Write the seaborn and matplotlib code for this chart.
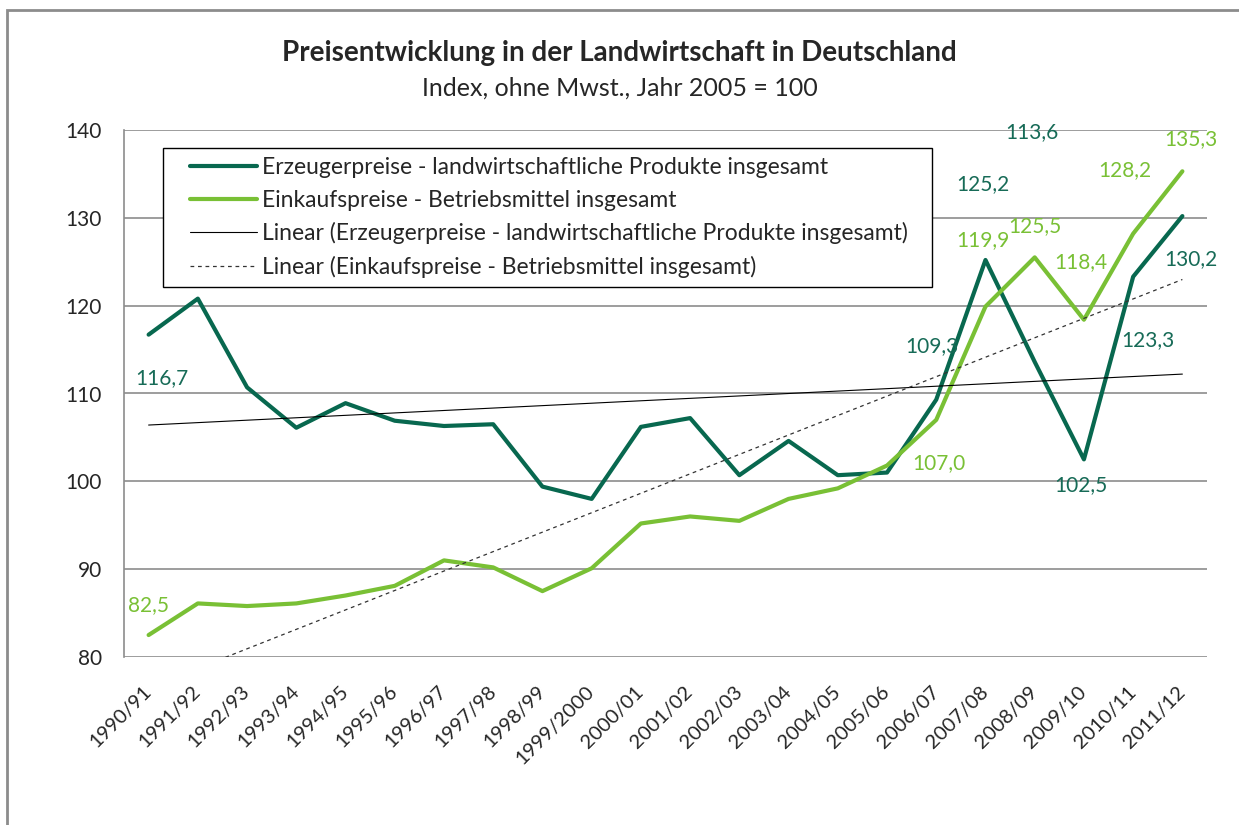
import numpy as np
import pandas as pd
import matplotlib
matplotlib.use("Agg")
import matplotlib.pyplot as plt
from matplotlib.patches import Rectangle
import seaborn as sns

# Daten (Index, Jahr 2005 = 100)
jahre = ["1990/91", "1991/92", "1992/93", "1993/94", "1994/95", "1995/96",
         "1996/97", "1997/98", "1998/99", "1999/2000", "2000/01", "2001/02",
         "2002/03", "2003/04", "2004/05", "2005/06", "2006/07", "2007/08",
         "2008/09", "2009/10", "2010/11", "2011/12"]
erzeuger = [116.7, 120.8, 110.7, 106.1, 108.9, 106.9, 106.3, 106.5, 99.4, 98.0,
            106.2, 107.2, 100.7, 104.6, 100.7, 101.0, 109.3, 125.2, 113.6, 102.5,
            123.3, 130.2]
einkauf = [82.5, 86.1, 85.8, 86.1, 87.0, 88.1, 91.0, 90.2, 87.5, 90.1,
           95.2, 96.0, 95.5, 98.0, 99.2, 101.8, 107.0, 119.9, 125.5, 118.4,
           128.2, 135.3]

name_erz = "Erzeugerpreise - landwirtschaftliche Produkte insgesamt"
name_ein = "Einkaufspreise - Betriebsmittel insgesamt"

dunkel = "#08684F"
hell = "#79C035"

# Beschriftungen: Index des Punktes und Versatz in Pixeln (wie im Original verschoben)
lab_erz = [(0, 13, -43), (16, -4, 54), (17, -3, 76), (18, -3, 230),
           (19, -3, -26), (20, 15, -63), (21, 9, -43)]
lab_ein = [(0, 0, 30), (16, 3, -43), (17, -3, 66), (18, 0, 31),
           (19, -3, 58), (20, -8, 64), (21, 9, 32)]

df = pd.DataFrame({"x": np.arange(len(jahre)), "jahr": jahre,
                   "erz": erzeuger, "ein": einkauf})

# lineare Trends (wie Excel-Trendlinie)
k1 = np.polyfit(df["x"], df["erz"], 1)
k2 = np.polyfit(df["x"], df["ein"], 1)
df["trend_erz"] = np.polyval(k1, df["x"])
df["trend_ein"] = np.polyval(k2, df["x"])

sns.set_style("white")
plt.rcParams["font.family"] = ["Lato", "DejaVu Sans"]

fig = plt.figure(figsize=(12.39, 8.25), dpi=100)
ax = fig.add_axes([124 / 1239, 1 - 657 / 825, 1083 / 1239, 527 / 825])

sns.lineplot(data=df, x="x", y="erz", color=dunkel, lw=3.0, label=name_erz, ax=ax)
sns.lineplot(data=df, x="x", y="ein", color=hell, lw=3.0, label=name_ein, ax=ax)
sns.lineplot(data=df, x="x", y="trend_erz", color="black", lw=0.8,
             label="Linear (" + name_erz + ")", ax=ax)
sns.lineplot(data=df, x="x", y="trend_ein", color="#333333", lw=0.9,
             label="Linear (" + name_ein + ")", ax=ax)
ax.lines[3].set_dashes((3, 3))

ax.set_xlim(-0.5, len(jahre) - 0.5)
ax.set_ylim(80, 140)
ax.set_yticks(range(80, 141, 10))
ax.set_xticks(df["x"])
ax.set_xticklabels(jahre, rotation=45, ha="right", va="center",
                   rotation_mode="anchor", fontsize=14.5)
ax.tick_params(axis="y", labelsize=15, length=0, pad=16)
ax.tick_params(axis="x", length=0, pad=23)
ax.set_xlabel("")
ax.set_ylabel("")
ax.yaxis.grid(True, color="#8c8c8c", lw=1.2)
ax.set_axisbelow(True)
for s in ["top", "right", "bottom"]:
    ax.spines[s].set_visible(False)
ax.spines["left"].set_color("#8c8c8c")
ax.spines["left"].set_linewidth(1.2)

# Datenbeschriftungen
for i, dx, dy in lab_erz:
    ax.annotate(f"{erzeuger[i]:.1f}".replace(".", ","), xy=(i, erzeuger[i]),
                xytext=(dx, dy), textcoords="offset pixels", ha="center",
                va="center", color="#176B57", fontsize=15)
for i, dx, dy in lab_ein:
    ax.annotate(f"{einkauf[i]:.1f}".replace(".", ","), xy=(i, einkauf[i]),
                xytext=(dx, dy), textcoords="offset pixels", ha="center",
                va="center", color=hell, fontsize=15)

# Legende ohne eigenen Rahmen, Rahmen danach breiter gezeichnet
leg = ax.legend(loc="upper left", bbox_to_anchor=((181 - 124) / 1083, (657 - 148) / 527),
                borderaxespad=0, frameon=False, fontsize=16.5, handlelength=2.9,
                handletextpad=0.25, labelspacing=0.5, borderpad=0.4)
fig.canvas.draw()
bb = leg.get_window_extent()
ax.add_artist(Rectangle((bb.x0 - 18, bb.y0), bb.width + 33, bb.height,
                        transform=None, fill=False, edgecolor="black", lw=1.0,
                        zorder=leg.get_zorder() - 0.1))
ax.add_artist(Rectangle((bb.x0 - 18, bb.y0), bb.width + 33, bb.height,
                        transform=None, fill=True, facecolor="white", lw=0,
                        zorder=2.5))

# Titel
fig.text(0.5, 1 - 53 / 825, "Preisentwicklung in der Landwirtschaft in Deutschland",
         ha="center", va="center", fontsize=20, fontweight="bold")
fig.text(0.5, 1 - 88 / 825, "Index, ohne Mwst., Jahr 2005 = 100",
         ha="center", va="center", fontsize=18)

# Rahmen des Diagrammbereichs
fig.add_artist(Rectangle((7 / 1239, -0.2), 1.2, 1.2 - 10 / 825,
                         transform=fig.transFigure, fill=False,
                         edgecolor="#8c8c8c", lw=2))

fig.savefig("out.png", dpi=100)
